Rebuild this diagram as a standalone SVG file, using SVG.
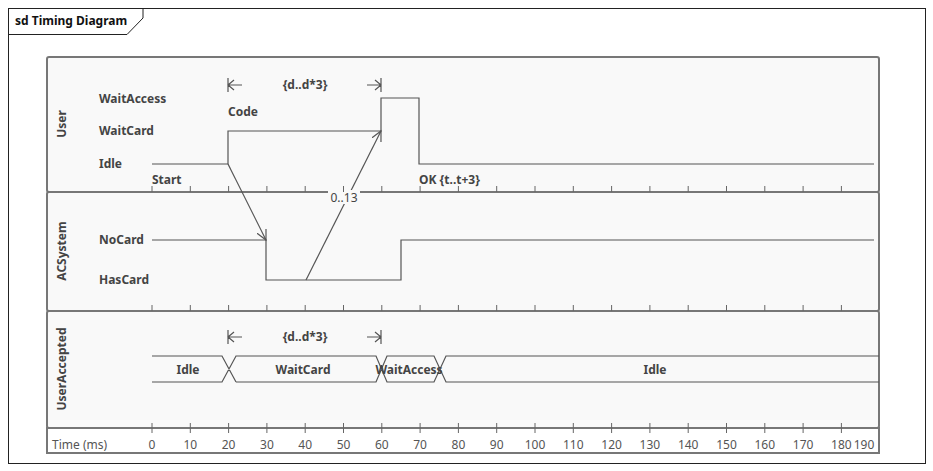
<svg xmlns="http://www.w3.org/2000/svg" width="933" height="471" viewBox="0 0 933 471">
<defs>
<style>
.t{font-family:"Noto Sans","Open Sans",sans-serif;font-size:12px;font-weight:bold;fill:#444}
.r{font-family:"Noto Sans","Open Sans",sans-serif;font-size:12px;fill:#555}
.lane{fill:#f9f9f9;stroke:#777;stroke-width:2}
.w{fill:none;stroke:#555;stroke-width:1.2}
.tk{stroke:#666;stroke-width:1}
</style>
<marker id="a" markerWidth="12" markerHeight="12" refX="10" refY="6" orient="auto" markerUnits="userSpaceOnUse"><path d="M0,1 L10,6 L0,11" fill="none" stroke="#555" stroke-width="1.2"/></marker>
</defs>
<rect x="0" y="0" width="933" height="471" fill="#fff"/>
<g id="frame">
<rect x="8.5" y="8.5" width="917" height="455" fill="#fff" stroke="#222"/>
<path d="M8.5,34.5 H127 L143,18 V8.5" fill="none" stroke="#222"/>
<text class="t" x="15" y="25" style="fill:#111">sd Timing Diagram</text>
</g>
<g id="lane-user">
<rect class="lane" x="47" y="57" width="832" height="135" rx="2"/>
<text class="t" transform="translate(66,124) rotate(-90)" text-anchor="middle">User</text>
<text class="t" x="99" y="103">WaitAccess</text>
<text class="t" x="99" y="135">WaitCard</text>
<text class="t" x="99" y="168">Idle</text>
<text class="t" x="152" y="184">Start</text>
<text class="t" x="228" y="116">Code</text>
<text class="t" x="419" y="184">OK {t..t+3}</text>
<path class="w" d="M152,164 H228 V131 H381 V98 H419 V164 H874"/>
</g>
<g id="lane-acsystem">
<rect class="lane" x="47" y="192" width="832" height="119" rx="2"/>
<text class="t" transform="translate(66,251) rotate(-90)" text-anchor="middle">ACSystem</text>
<text class="t" x="99" y="244">NoCard</text>
<text class="t" x="99" y="284">HasCard</text>
<path class="w" d="M152,240 H266 V280 H401 V240 H874"/>
</g>
<g id="lane-useraccepted">
<rect class="lane" x="47" y="311" width="832" height="117" rx="2"/>
<text class="t" transform="translate(66,369) rotate(-90)" text-anchor="middle">UserAccepted</text>
<path class="w" d="M152,356 H222 L236,382 M152,382 H222 L236,356 H376 L387,382 H434 L446,356 H879 M236,382 H376 L387,356 H434 L446,382 H879"/>
<text class="t" x="188" y="374" text-anchor="middle">Idle</text>
<text class="t" x="303" y="374" text-anchor="middle">WaitCard</text>
<text class="t" x="409" y="374" text-anchor="middle">WaitAccess</text>
<text class="t" x="655" y="374" text-anchor="middle">Idle</text>
</g>
<g id="durations">
<path class="w" d="M228,78 V92 M381,78 V92 M228,85 H242 M381,85 H367 M234,80 L228,85 L234,90 M375,80 L381,85 L375,90"/>
<text class="t" x="305" y="89" text-anchor="middle">{d..d*3}</text>
<path class="w" d="M228,330 V344 M381,330 V344 M228,337 H242 M381,337 H367 M234,332 L228,337 L234,342 M375,332 L381,337 L375,342"/>
<text class="t" x="305" y="341" text-anchor="middle">{d..d*3}</text>
</g>
<g id="connectors">
<line class="w" x1="228" y1="164" x2="266" y2="240" marker-end="url(#a)"/>
<line class="w" x1="306" y1="280" x2="381" y2="131" marker-end="url(#a)"/>
<rect x="328" y="190" width="32" height="14" fill="#f9f9f9"/>
<text class="r" x="344" y="202" text-anchor="middle" style="fill:#444">0..13</text>
</g>
<g id="axis">
<line x1="47" y1="428" x2="879" y2="428" stroke="#777" stroke-width="2"/>
<rect x="47" y="428" width="832" height="25" fill="none" stroke="#777" stroke-width="2"/>
<text class="r" x="52" y="449">Time (ms)</text>
<g class="tk">
<path d="M152,186V192M190.3,186V192M228.6,186V192M266.9,186V192M305.2,186V192M343.5,186V192M381.8,186V192M420.1,186V192M458.4,186V192M496.7,186V192M535,186V192M573.3,186V192M611.6,186V192M649.9,186V192M688.2,186V192M726.5,186V192M764.8,186V192M803.1,186V192M841.4,186V192"/>
<path d="M152,305V311M190.3,305V311M228.6,305V311M266.9,305V311M305.2,305V311M343.5,305V311M381.8,305V311M420.1,305V311M458.4,305V311M496.7,305V311M535,305V311M573.3,305V311M611.6,305V311M649.9,305V311M688.2,305V311M726.5,305V311M764.8,305V311M803.1,305V311M841.4,305V311"/>
<path d="M152,423V433M190.3,423V433M228.6,423V433M266.9,423V433M305.2,423V433M343.5,423V433M381.8,423V433M420.1,423V433M458.4,423V433M496.7,423V433M535,423V433M573.3,423V433M611.6,423V433M649.9,423V433M688.2,423V433M726.5,423V433M764.8,423V433M803.1,423V433M841.4,423V433"/>
</g>
<g class="r" text-anchor="middle">
<text x="152" y="449">0</text><text x="190.3" y="449">10</text><text x="228.6" y="449">20</text><text x="266.9" y="449">30</text><text x="305.2" y="449">40</text><text x="343.5" y="449">50</text><text x="381.8" y="449">60</text><text x="420.1" y="449">70</text><text x="458.4" y="449">80</text><text x="496.7" y="449">90</text><text x="535" y="449">100</text><text x="573.3" y="449">110</text><text x="611.6" y="449">120</text><text x="649.9" y="449">130</text><text x="688.2" y="449">140</text><text x="726.5" y="449">150</text><text x="764.8" y="449">160</text><text x="803.1" y="449">170</text><text x="841.4" y="449">180</text><text x="864" y="449">190</text>
</g>
</g>
</svg>
